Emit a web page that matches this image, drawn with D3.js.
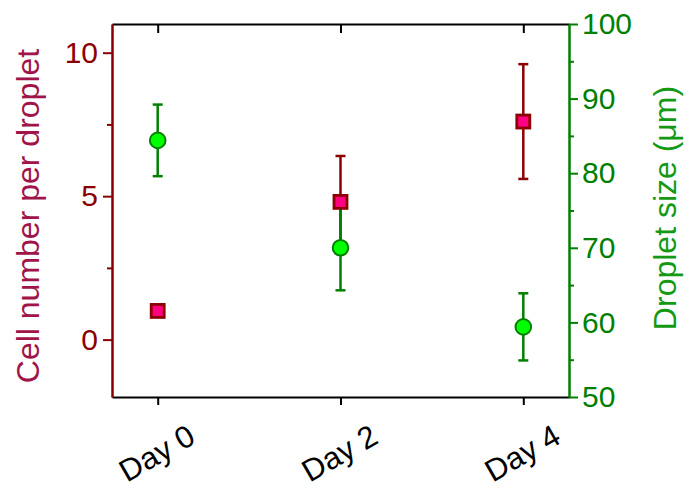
<!DOCTYPE html>
<html>
<head>
<meta charset="utf-8">
<script src="https://cdn.jsdelivr.net/npm/d3@7"></script>
<style>
  body { margin: 0; background: #fff; }
  text { font-family: "Liberation Sans", Arial, sans-serif; }
</style>
</head>
<body>
<svg id="chart"></svg>
<script>
// data
const days = [0, 2, 4];
const dayLabels = ["Day 0", "Day 2", "Day 4"];
const cellNumber = [1.0, 4.8, 7.6];
const cellErr = [0.1, 1.6, 2.0];
const dropletSize = [84.4, 70.0, 59.4];
const dropletErr = [4.8, 5.7, 4.5];

const width = 689, height = 489;
const margin = { top: 24, right: 120, bottom: 92, left: 112 };

const red = "#8b0000", redTitle = "#a0144a";
const green = "#008000", greenTitle = "#139913";

const svg = d3.select("#chart").attr("width", width).attr("height", height);

const x = d3.scaleLinear().domain([-0.5, 4.5]).range([margin.left, width - margin.right]);
const yL = d3.scaleLinear().domain([-2, 11]).range([height - margin.bottom, margin.top]);
const yR = d3.scaleLinear().domain([50, 100]).range([height - margin.bottom, margin.top]);

const x0 = margin.left, x1 = width - margin.right;
const y0 = height - margin.bottom, y1 = margin.top;

// top and bottom frame (black)
const bottomAxis = svg.append("g").attr("transform", `translate(0,${y0})`)
  .call(d3.axisBottom(x).tickValues(days).tickFormat("").tickSize(8).tickSizeOuter(0));
const topAxis = svg.append("g").attr("transform", `translate(0,${y1})`)
  .call(d3.axisBottom(x).tickValues(days).tickFormat("").tickSize(9).tickSizeOuter(0));
[bottomAxis, topAxis].forEach(g => {
  g.select(".domain").attr("stroke", "#000").attr("stroke-width", 2);
  g.selectAll(".tick line").attr("stroke", "#000").attr("stroke-width", 2);
});

// day labels, rotated
svg.append("g").selectAll("text")
  .data(days)
  .enter().append("text")
  .attr("transform", d => `translate(${x(d) - 1},${y0 + 56}) rotate(-30)`)
  .attr("text-anchor", "middle")
  .attr("dy", "0.35em")
  .attr("font-size", 31)
  .attr("fill", "#000")
  .text((d, i) => dayLabels[i]);

// left axis
const leftMinor = svg.append("g").attr("transform", `translate(${x0},0)`)
  .call(d3.axisLeft(yL).tickValues([2.5, 7.5]).tickFormat("").tickSize(5).tickSizeOuter(0));
const leftAxis = svg.append("g").attr("transform", `translate(${x0},0)`)
  .call(d3.axisLeft(yL).tickValues([0, 5, 10]).tickSize(9).tickPadding(5).tickSizeOuter(0));
[leftMinor, leftAxis].forEach(g => {
  g.select(".domain").attr("stroke", red).attr("stroke-width", 2);
  g.selectAll(".tick line").attr("stroke", red).attr("stroke-width", 2);
});
leftAxis.selectAll(".tick text").attr("fill", red).attr("font-size", 30)
  .style("font-family", "'Liberation Sans', Arial, sans-serif");

// right axis
const rightMinor = svg.append("g").attr("transform", `translate(${x1},0)`)
  .call(d3.axisRight(yR).tickValues([55, 65, 75, 85, 95]).tickFormat("").tickSize(5).tickSizeOuter(0));
const rightAxis = svg.append("g").attr("transform", `translate(${x1},0)`)
  .call(d3.axisRight(yR).tickValues([50, 60, 70, 80, 90, 100]).tickSize(9).tickPadding(4).tickSizeOuter(0));
[rightMinor, rightAxis].forEach(g => {
  g.select(".domain").attr("stroke", green).attr("stroke-width", 2);
  g.selectAll(".tick line").attr("stroke", green).attr("stroke-width", 2);
});
rightAxis.selectAll(".tick text").attr("fill", green).attr("font-size", 30)
  .style("font-family", "'Liberation Sans', Arial, sans-serif");

// axis titles
svg.append("text")
  .attr("transform", `translate(39,216) rotate(-90)`)
  .attr("text-anchor", "middle")
  .attr("font-size", 32)
  .attr("fill", redTitle)
  .text("Cell number per droplet");

svg.append("text")
  .attr("transform", `translate(676,208) rotate(-90)`)
  .attr("text-anchor", "middle")
  .attr("font-size", 32)
  .attr("fill", greenTitle)
  .text("Droplet size (μm)");

// error bars helper
function errorBars(vals, errs, y, color) {
  const g = svg.append("g").attr("stroke", color).attr("stroke-width", 2.5).attr("fill", "none");
  vals.forEach((v, i) => {
    const cx = x(days[i]);
    g.append("line").attr("x1", cx).attr("x2", cx).attr("y1", y(v - errs[i])).attr("y2", y(v + errs[i]));
    [v - errs[i], v + errs[i]].forEach(e => {
      g.append("line").attr("x1", cx - 5).attr("x2", cx + 5).attr("y1", y(e)).attr("y2", y(e));
    });
  });
}

// error bars first (green over red), then markers
errorBars(cellNumber, cellErr, yL, red);
errorBars(dropletSize, dropletErr, yR, green);

// cell number (pink squares)
svg.append("g").selectAll("rect")
  .data(cellNumber)
  .enter().append("rect")
  .attr("x", (d, i) => x(days[i]) - 6.5)
  .attr("y", d => yL(d) - 6.5)
  .attr("width", 13)
  .attr("height", 13)
  .attr("fill", "#ff0080")
  .attr("stroke", red)
  .attr("stroke-width", 2.8);

// droplet size (green circles)
svg.append("g").selectAll("circle")
  .data(dropletSize)
  .enter().append("circle")
  .attr("cx", (d, i) => x(days[i]))
  .attr("cy", d => yR(d))
  .attr("r", 7.8)
  .attr("fill", "#00ff00")
  .attr("stroke", green)
  .attr("stroke-width", 2);
</script>
</body>
</html>
